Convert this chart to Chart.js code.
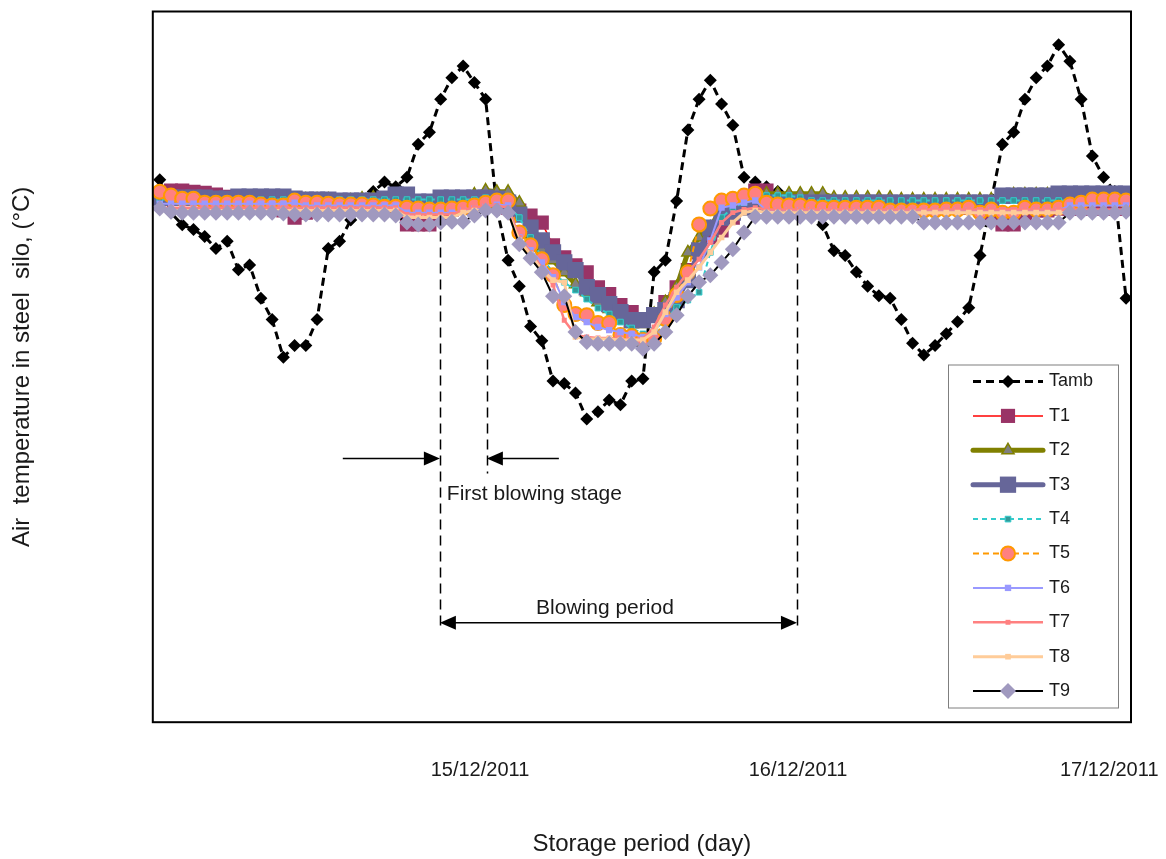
<!DOCTYPE html>
<html><head><meta charset="utf-8">
<script src="https://cdn.jsdelivr.net/npm/chart.js@4/dist/chart.umd.min.js"></script>
<style>html,body{margin:0;padding:0;background:#fff;}canvas{display:block;}</style>
</head><body>
<canvas id="c" width="1166" height="859"></canvas>
<script>
// ---- tick labels (x positions in sample-index units) ----
const xTickPositions = [28.5, 56.8, 84.5];
const xTickLabels = ['15/12/2011', '16/12/2011', '17/12/2011'];
const seriesNames = ['Tamb','T1','T2','T3','T4','T5','T6','T7','T8','T9'];

// ---- series values (°C, 87 samples each) ----
const Tamb = [32.9,31.5,31.0,30.8,30.5,30.0,30.3,29.1,29.3,27.9,
  27.0,25.4,25.9,25.9,27.0,30.0,30.3,31.2,31.8,32.4,
  32.8,32.6,33.0,34.4,34.9,36.3,37.2,37.7,37.0,36.3,
  31.7,29.5,28.4,26.7,26.1,24.4,24.3,23.9,22.8,23.1,
  23.6,23.4,24.4,24.5,29.0,29.5,32.0,35.0,36.3,37.1,
  36.1,35.2,33.0,32.8,32.6,32.4,32.1,31.7,31.4,31.0,
  29.9,29.7,29.0,28.4,28.0,27.9,27.0,26.0,25.5,25.9,
  26.4,26.9,27.5,29.7,32.0,34.4,34.9,36.3,37.2,37.7,
  38.6,37.9,36.3,33.9,33.0,32.4,27.9];
const T1 = [32.27,32.44,32.44,32.39,32.35,32.27,32.18,32.10,32.02,31.93,
  31.93,31.60,31.30,31.51,31.72,31.72,31.72,31.72,31.72,31.72,
  31.72,31.72,31.01,31.01,31.01,31.43,31.64,31.72,31.81,32.14,
  32.02,31.72,31.60,31.39,31.09,30.13,29.62,29.29,28.99,28.36,
  28.07,27.61,27.31,26.97,27.23,27.73,28.36,29.08,29.83,30.46,
  30.76,31.30,31.93,32.44,32.44,31.93,31.72,31.72,31.72,31.72,
  31.72,31.72,31.72,31.72,31.72,31.72,31.72,31.72,31.72,31.72,
  31.72,31.72,31.72,31.72,31.30,31.01,31.01,31.30,31.60,31.60,
  31.68,31.68,31.68,31.68,31.68,31.68,31.68];
const T2 = [32.06,32.06,32.06,32.06,32.06,32.06,32.06,32.06,32.06,32.06,
  32.06,32.06,32.06,32.06,32.06,32.06,31.93,32.02,32.10,32.14,
  32.06,31.97,31.93,31.89,31.89,31.97,32.06,32.06,32.27,32.44,
  32.39,32.39,31.93,30.59,29.96,29.50,28.99,28.49,28.15,27.73,
  27.44,26.97,26.81,26.81,27.23,27.73,28.36,29.83,30.46,30.88,
  31.72,32.02,32.14,32.23,32.31,32.31,32.31,32.31,32.31,32.31,
  32.14,32.14,32.14,32.14,32.14,32.14,32.06,32.06,32.06,32.06,
  32.06,32.06,32.06,32.06,32.06,32.06,32.27,32.27,32.27,32.27,
  32.27,32.27,32.27,32.27,32.27,32.27,32.27];
const T3 = [32.14,32.14,32.14,32.14,32.14,32.10,32.10,32.18,32.18,32.18,
  32.18,32.18,32.10,32.06,32.06,32.06,32.02,32.02,32.02,32.02,
  32.10,32.27,32.27,31.97,31.97,32.14,32.14,32.14,32.14,32.14,
  32.10,31.93,31.43,30.88,30.34,29.83,29.41,29.08,28.36,28.03,
  27.65,27.31,26.97,26.97,27.18,27.39,27.82,28.66,29.92,30.88,
  31.30,31.51,31.72,31.93,31.93,31.93,31.93,31.93,31.93,31.93,
  31.93,31.93,31.93,31.93,31.93,31.93,31.93,31.93,31.93,31.93,
  31.93,31.93,31.93,31.93,31.93,32.23,32.23,32.23,32.23,32.23,
  32.31,32.31,32.31,32.31,32.31,32.31,32.31];
const T4 = [32.06,32.06,32.06,32.06,32.06,32.06,32.06,32.06,32.06,32.06,
  32.06,32.06,32.06,32.06,32.06,32.06,32.06,32.06,32.06,32.06,
  32.06,32.06,32.06,32.06,32.06,32.06,32.06,32.06,32.06,32.14,
  32.14,31.81,31.30,30.46,29.62,28.99,28.57,28.24,27.86,27.48,
  27.23,26.89,26.64,26.39,26.55,26.97,27.52,27.82,28.15,29.83,
  31.30,31.72,31.93,32.06,32.23,32.23,32.23,32.14,32.02,32.02,
  32.02,32.02,32.02,32.02,32.02,32.02,32.02,32.02,32.02,32.02,
  32.02,32.02,32.02,32.02,32.02,32.02,32.02,32.02,32.02,32.02,
  32.02,32.02,32.02,32.02,32.02,32.02,32.02];
const T5 = [32.39,32.23,32.10,32.10,31.93,31.93,31.93,31.93,31.93,31.85,
  31.81,31.81,32.02,31.93,31.93,31.89,31.85,31.85,31.85,31.81,
  31.76,31.76,31.72,31.68,31.64,31.64,31.68,31.72,31.81,31.93,
  32.02,32.02,30.67,30.13,29.54,28.87,27.61,27.23,27.18,26.85,
  26.85,26.34,26.30,26.13,26.18,27.02,28.03,28.99,31.01,31.68,
  32.02,32.10,32.23,32.31,31.93,31.85,31.81,31.81,31.76,31.72,
  31.72,31.72,31.72,31.72,31.72,31.60,31.60,31.60,31.60,31.60,
  31.64,31.64,31.72,31.51,31.64,31.51,31.51,31.72,31.64,31.64,
  31.72,31.85,31.93,32.06,32.06,32.06,32.02];
const T6 = [31.89,31.89,31.89,31.89,31.89,31.89,31.89,31.89,31.89,31.89,
  31.89,31.89,31.93,31.81,31.81,31.81,31.81,31.81,31.81,31.81,
  31.81,31.81,31.51,31.51,31.51,31.51,31.51,31.60,31.68,31.76,
  31.85,31.81,30.46,29.92,29.41,28.78,27.73,27.10,26.89,26.68,
  26.55,26.47,26.39,26.26,26.47,27.23,27.94,28.57,29.20,30.34,
  31.72,31.81,31.93,32.02,31.60,31.60,31.60,31.60,31.60,31.60,
  31.60,31.60,31.60,31.60,31.60,31.60,31.60,31.60,31.60,31.60,
  31.60,31.60,31.60,31.60,31.60,31.60,31.60,31.60,31.60,31.60,
  31.60,31.81,31.81,31.81,31.81,31.81,31.81];
const T7 = [31.72,31.72,31.72,31.72,31.72,31.72,31.72,31.72,31.72,31.72,
  31.72,31.72,31.72,31.72,31.72,31.72,31.72,31.72,31.72,31.72,
  31.72,31.72,31.43,31.43,31.43,31.43,31.43,31.64,31.72,31.81,
  31.81,31.72,30.46,29.83,29.20,28.45,26.97,26.34,26.26,26.22,
  26.22,26.18,26.13,26.18,26.68,27.61,28.36,28.99,29.54,30.25,
  31.09,31.51,31.64,31.72,31.64,31.64,31.64,31.64,31.64,31.64,
  31.64,31.64,31.64,31.64,31.64,31.64,31.64,31.64,31.64,31.64,
  31.64,31.64,31.64,31.64,31.64,31.64,31.64,31.64,31.64,31.64,
  31.64,31.64,31.64,31.64,31.64,31.64,31.64];
const T8 = [31.60,31.60,31.60,31.60,31.60,31.60,31.60,31.60,31.60,31.60,
  31.60,31.60,31.60,31.60,31.60,31.60,31.60,31.60,31.60,31.60,
  31.60,31.60,31.30,31.30,31.30,31.30,31.30,31.51,31.60,31.60,
  31.60,31.51,30.34,29.75,29.08,28.66,28.57,26.26,26.18,26.18,
  26.18,26.13,26.13,26.13,26.47,27.31,28.15,28.66,29.20,29.83,
  30.46,31.09,31.51,31.60,31.51,31.51,31.51,31.51,31.51,31.51,
  31.51,31.51,31.51,31.51,31.51,31.51,31.51,31.51,31.51,31.51,
  31.51,31.51,31.51,31.51,31.51,31.51,31.51,31.51,31.51,31.51,
  31.51,31.51,31.51,31.51,31.51,31.51,31.51];
const T9 = [31.68,31.55,31.51,31.51,31.51,31.51,31.51,31.51,31.51,31.51,
  31.51,31.47,31.43,31.43,31.43,31.43,31.43,31.43,31.43,31.43,
  31.43,31.39,31.09,31.01,31.01,31.09,31.13,31.13,31.39,31.60,
  31.60,31.51,30.17,29.58,28.99,27.98,27.98,26.47,26.05,25.97,
  25.97,25.97,25.97,25.76,25.97,26.47,27.18,27.98,28.57,28.87,
  29.41,29.96,30.67,31.34,31.34,31.34,31.34,31.34,31.34,31.34,
  31.34,31.34,31.34,31.34,31.34,31.34,31.34,31.34,31.09,31.09,
  31.09,31.09,31.09,31.09,31.09,31.09,31.09,31.09,31.09,31.09,
  31.09,31.51,31.51,31.51,31.51,31.51,31.55];

// ---- annotation anchors (x in sample-index units, y in °C) ----
const blowingStartX = 24.93, firstStageEndX = 29.11, blowingEndX = 56.71;
const markerTopY = 31.39, stageLineBottomY = 20.5, periodLineBottomY = 13.95;
const stageArrowY = 21.13, periodArrowY = 14.2;
const leftArrowFromX = 16.29, rightArrowFromX = 35.52;
const stageLabel = {text: 'First blowing stage', x: 25.55, y: 19.62};
const periodLabel = {text: 'Blowing period', x: 39.62, y: 14.83};

const FONT = '"Liberation Sans", Arial, Helvetica, sans-serif';
Chart.defaults.font.family = FONT;
Chart.defaults.color = '#1a1a1a';

const allValues = [Tamb, T1, T2, T3, T4, T5, T6, T7, T8, T9];
const styles = [
  {borderColor:'#000000', borderWidth:3, borderDash:[8,5], pointStyle:'rectRot', pointRadius:6.5, pointBackgroundColor:'#000000', pointBorderColor:'#000000', pointBorderWidth:0},
  {borderColor:'#FF0000', borderWidth:1.5, borderDash:[], pointStyle:'rect', pointRadius:10, pointBackgroundColor:'#993366', pointBorderColor:'#993366', pointBorderWidth:0},
  {borderColor:'#808000', borderWidth:5, borderDash:[], pointStyle:'triangle', pointRadius:7, pointBackgroundColor:'#808080', pointBorderColor:'#808000', pointBorderWidth:1.5},
  {borderColor:'#666699', borderWidth:5, borderDash:[], pointStyle:'rect', pointRadius:11.5, pointBackgroundColor:'#666699', pointBorderColor:'#666699', pointBorderWidth:0},
  {borderColor:'#33CCCC', borderWidth:2, borderDash:[5,4], pointStyle:'rect', pointRadius:4, pointBackgroundColor:'#339999', pointBorderColor:'#33CCCC', pointBorderWidth:1},
  {borderColor:'#FF9900', borderWidth:2, borderDash:[6,4], pointStyle:'circle', pointRadius:7, pointBackgroundColor:'#FF8080', pointBorderColor:'#FF9900', pointBorderWidth:2},
  {borderColor:'#9999FF', borderWidth:2, borderDash:[], pointStyle:'rect', pointRadius:4.5, pointBackgroundColor:'#9999FF', pointBorderColor:'#9999FF', pointBorderWidth:0},
  {borderColor:'#FF8080', borderWidth:2.5, borderDash:[], pointStyle:'rect', pointRadius:3.5, pointBackgroundColor:'#FF8080', pointBorderColor:'#FF8080', pointBorderWidth:0},
  {borderColor:'#FFCC99', borderWidth:3, borderDash:[], pointStyle:'rect', pointRadius:4, pointBackgroundColor:'#FFCC99', pointBorderColor:'#FFCC99', pointBorderWidth:0},
  {borderColor:'#000000', borderWidth:2, borderDash:[], pointStyle:'rectRot', pointRadius:8, pointBackgroundColor:'#A099BF', pointBorderColor:'#A099BF', pointBorderWidth:0}
];

const datasets = allValues.map((vals, k) => Object.assign({
  label: seriesNames[k],
  data: vals.map((v, i) => ({x: i, y: v})),
  tension: 0,
  fill: false,
  pointHoverRadius: styles[k].pointRadius,
  order: seriesNames.length - 1 - k
}, styles[k]));

function drawMarker(ctx, st, x, y) {
  ctx.save();
  ctx.fillStyle = st.pointBackgroundColor;
  ctx.strokeStyle = st.pointBorderColor;
  ctx.lineWidth = st.pointBorderWidth;
  ctx.setLineDash([]);
  Chart.helpers.drawPoint(ctx, {pointStyle: st.pointStyle, radius: st.pointRadius, rotation: 0, borderWidth: st.pointBorderWidth}, x, y);
  ctx.restore();
}

const decorPlugin = {
  id: 'decor',
  beforeDraw(chart) {
    const {ctx, width, height} = chart;
    ctx.save(); ctx.fillStyle = '#ffffff'; ctx.fillRect(0, 0, width, height); ctx.restore();
  },
  afterDatasetsDraw(chart) {
    const {ctx, chartArea: a, scales: {x, y}} = chart;
    const px = v => x.getPixelForValue(v), py = v => y.getPixelForValue(v);
    ctx.save();
    ctx.strokeStyle = '#000'; ctx.fillStyle = '#000'; ctx.lineWidth = 1.5;
    // dashed markers
    ctx.setLineDash([10, 6]);
    [[blowingStartX, periodLineBottomY], [firstStageEndX, stageLineBottomY], [blowingEndX, periodLineBottomY]].forEach(([xv, yb]) => {
      ctx.beginPath(); ctx.moveTo(Math.round(px(xv)) + 0.5, py(markerTopY)); ctx.lineTo(Math.round(px(xv)) + 0.5, py(yb)); ctx.stroke();
    });
    ctx.setLineDash([]);
    function head(xt, yt, dir) {
      ctx.beginPath(); ctx.moveTo(xt, yt); ctx.lineTo(xt - dir * 16, yt - 7); ctx.lineTo(xt - dir * 16, yt + 7); ctx.closePath(); ctx.fill();
    }
    function arrow(x1, x2, yv, both) {
      const X1 = px(x1), X2 = px(x2), Y = py(yv);
      const dir = X2 > X1 ? 1 : -1;
      ctx.beginPath(); ctx.moveTo(X1 + (both ? dir * 10 : 0), Y); ctx.lineTo(X2 - dir * 10, Y); ctx.stroke();
      head(X2, Y, dir);
      if (both) head(X1, Y, -dir);
    }
    arrow(leftArrowFromX, blowingStartX, stageArrowY, false);
    arrow(rightArrowFromX, firstStageEndX, stageArrowY, false);
    arrow(blowingStartX, blowingEndX, periodArrowY, true);
    ctx.font = '21px ' + FONT; ctx.fillStyle = '#1a1a1a'; ctx.textBaseline = 'middle';
    ctx.textAlign = 'left'; ctx.fillText(stageLabel.text, px(stageLabel.x), py(stageLabel.y));
    ctx.textAlign = 'center'; ctx.fillText(periodLabel.text, px(periodLabel.x), py(periodLabel.y));
    // frame
    ctx.lineWidth = 2; ctx.strokeStyle = '#000';
    ctx.strokeRect(a.left, a.top, a.right - a.left, a.bottom - a.top);
    ctx.restore();
  },
  afterDraw(chart) {
    const {ctx, chartArea: a} = chart;
    const L = a.right - 183, T = a.top + 353, W = 170, H = 343;
    ctx.save();
    ctx.fillStyle = '#fff'; ctx.fillRect(L, T, W, H);
    ctx.strokeStyle = '#7f7f7f'; ctx.lineWidth = 1; ctx.strokeRect(L + 0.5, T + 0.5, W, H);
    chart.data.datasets.forEach((ds, k) => {
      const cy = T + 17 + k * 34.4;
      ctx.strokeStyle = ds.borderColor; ctx.lineWidth = ds.borderWidth;
      ctx.setLineDash(ds.borderDash || []);
      ctx.lineCap = ds.borderWidth >= 4 ? 'round' : 'butt';
      ctx.beginPath(); ctx.moveTo(L + 25, cy); ctx.lineTo(L + 95, cy); ctx.stroke();
      ctx.setLineDash([]);
      drawMarker(ctx, ds, L + 60, cy);
      ctx.fillStyle = '#1a1a1a'; ctx.font = '18px ' + FONT;
      ctx.textAlign = 'left'; ctx.textBaseline = 'middle';
      ctx.fillText(ds.label, L + 101, cy);
    });
    ctx.restore();
  }
};

new Chart(document.getElementById('c'), {
  type: 'line',
  data: {datasets},
  options: {
    responsive: false,
    animation: false,
    devicePixelRatio: 1,
    layout: {padding: {top: 8, right: 35, left: 0, bottom: 0}},
    plugins: {legend: {display: false}, tooltip: {enabled: false}},
    scales: {
      x: {
        type: 'linear', min: -0.62, max: 86.44,
        grid: {display: false, drawTicks: true, tickLength: 36},
        border: {display: false},
        afterBuildTicks: s => { s.ticks = xTickPositions.map(v => ({value: v})); },
        ticks: {autoSkip: false, maxRotation: 0, padding: 0, font: {size: 20}, color: '#1a1a1a',
          callback: (v, i) => xTickLabels[i]},
        title: {display: true, text: 'Storage period (day)', font: {size: 24}, color: '#1a1a1a', padding: {top: 48, bottom: 0}}
      },
      y: {
        min: 10, max: 40,
        grid: {display: false, drawTicks: false},
        border: {display: false},
        ticks: {display: false},
        title: {display: true, text: 'Air  temperature in steel  silo, (°C)', font: {size: 24}, color: '#1a1a1a', padding: {top: 8, bottom: 116}}
      }
    }
  },
  plugins: [decorPlugin]
});
</script>
</body></html>
